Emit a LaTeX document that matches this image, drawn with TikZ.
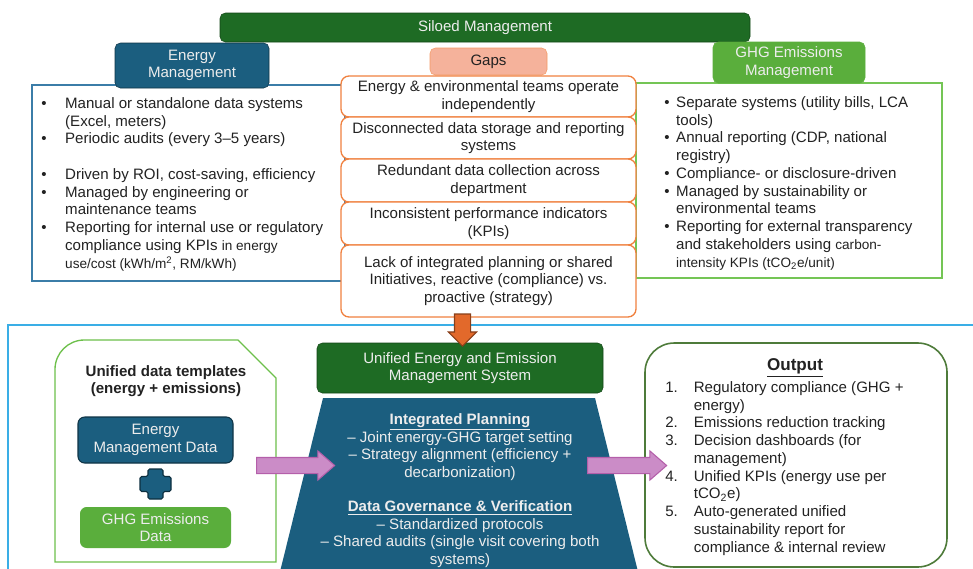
\documentclass[tikz,border=0pt]{standalone}
\usepackage{fontspec}
\setmainfont{Liberation Sans}
\usetikzlibrary{positioning,shapes.arrows}

\definecolor{silogreen}{HTML}{1E6B24}
\definecolor{engblue}{HTML}{1B5E7F}
\definecolor{ghggreen}{HTML}{5AAE3C}
\definecolor{gaporange}{HTML}{F0813F}
\definecolor{gapfill}{HTML}{F5B29B}
\definecolor{skyline}{HTML}{3AAEE6}
\definecolor{tmplgreen}{HTML}{6DC04B}
\definecolor{outgreen}{HTML}{4E7B3A}
\definecolor{pinkfill}{HTML}{CB8CC7}
\definecolor{pinkline}{HTML}{B45FAA}
\definecolor{arrorange}{HTML}{E2692B}
\definecolor{engline}{HTML}{3B7DA8}
\definecolor{ghgline}{HTML}{74C555}
\definecolor{lighttext}{HTML}{EDEDED}
\definecolor{bodytext}{HTML}{222222}

\newcommand{\kpifont}{\fontsize{10.2}{13.3}\selectfont}

\begin{document}
\begin{tikzpicture}[
    x=0.75pt, y=-0.75pt,
    font=\fontsize{11.3}{13.3}\selectfont,
    wh/.style 2 args={minimum width=#1*0.75pt, minimum height=#2*0.75pt},
    panel/.style={draw, line width=0.9pt, fill=white, inner sep=0pt},
    tab/.style={rounded corners=4pt, inner sep=0pt, align=center, text=lighttext},
    gapbox/.style={draw=gaporange, line width=1pt, fill=white, rounded corners=6pt,
                   inner sep=0pt, align=center, text=bodytext, wh={295}{#1}},
    listtxt/.style={anchor=base west, inner sep=0pt, text=bodytext},
    databox/.style={rounded corners=5pt, inner sep=0pt, align=center, text=lighttext},
    bigarr/.style={single arrow, inner sep=7.5*0.75pt, minimum width=0pt,
                   single arrow head extend=6.5*0.75pt, line width=0.8pt},
  ]
    \useasboundingbox (0,0) rectangle (973,568);
    \clip (0,0) rectangle (973,568);

    % siloed side: two panels with their tabs
    \node[panel, draw=engline, wh={313}{196}] (engpanel) at (188.5,183) {};
    \node[panel, draw=ghgline, wh={306}{195}] (ghgpanel) at (789,180.5) {};

    \node[tab, fill=silogreen, draw=silogreen!65!black, wh={530}{29}] (silo) at (485,27.5)
      {Siloed Management};
    \node[tab, fill=engblue, draw=engblue!55!black, wh={154}{45}] (engtab) at (192,65.5)
      {Energy\\Management};
    \node[tab, fill=ghggreen, draw=ghggreen, wh={152}{41}] (ghgtab) at (789,62.5)
      {GHG Emissions\\Management};

    \node[listtxt] (englist) at (41,108.5) {%
      \begin{tabular}[t]{@{}l@{\hspace{14pt}}l@{}}
        \textbullet & Manual or standalone data systems\\
                    & (Excel, meters)\\
        \textbullet & Periodic audits (every 3–5 years)\\
                    & \\
        \textbullet & Driven by ROI, cost-saving, efficiency\\
        \textbullet & Managed by engineering or\\
                    & maintenance teams\\
        \textbullet & Reporting for internal use or regulatory\\
                    & compliance using KPIs {\kpifont in energy}\\
                    & {\kpifont use/cost (kWh/m\textsuperscript{2}, RM/kWh)}
      \end{tabular}};
    \node[listtxt] (ghglist) at (664,107.5) {%
      \begin{tabular}[t]{@{}l@{\hspace{5pt}}l@{}}
        \textbullet & Separate systems (utility bills, LCA\\
                    & tools)\\
        \textbullet & Annual reporting (CDP, national\\
                    & registry)\\
        \textbullet & Compliance- or disclosure-driven\\
        \textbullet & Managed by sustainability or\\
                    & environmental teams\\
        \textbullet & Reporting for external transparency\\
                    & and stakeholders using {\kpifont carbon-}\\
                    & {\kpifont intensity KPIs (tCO\textsubscript{2}e/unit)}
      \end{tabular}};

    % gaps column
    \node[tab, fill=gapfill, draw=gaporange!80, text=bodytext, wh={117}{27}] (gaptab) at (488.5,61.5) {Gaps};
    \node[gapbox=41] (gap1) at (488.5,96.5) {Energy \& environmental teams operate\\independently};
    \node[gapbox=42] (gap2) at (488.5,138) {Disconnected data storage and reporting\\systems};
    \node[gapbox=43] (gap3) at (488.5,180.5) {Redundant data collection across\\department};
    \node[gapbox=43] (gap4) at (488.5,223.5) {Inconsistent performance indicators\\(KPIs)};
    \node[gapbox=72] (gap5) at (488.5,281) {Lack of integrated planning or shared\\Initiatives, reactive (compliance) vs.\\proactive (strategy)};

    % unified side
    \draw[skyline, line width=1pt] (8,325) rectangle (990,590);

    \draw[tmplgreen, line width=1pt, fill=white]
      (55,562) [rounded corners=22pt] -- (55,340) [sharp corners] -- (238,340)
      -- (276,378) -- (276,562) -- cycle;
    \node[align=center, inner sep=0pt, text=bodytext, font=\fontsize{11.3}{13.3}\selectfont\bfseries]
      (tmpltitle) at (166,381) {Unified data templates\\(energy + emissions)};
    \node[databox, fill=engblue, draw=engblue!55!black, line width=0.8pt, wh={155}{46}] (engdata)
      at (155.5,440) {Energy\\Management Data};
    \node[databox, fill=ghggreen, wh={151}{41}] (ghgdata) at (155.5,527.5) {GHG Emissions\\Data};
    \coordinate (plus) at (155.5,484);
    \draw[fill=engblue, draw=engblue!50!black, line width=0.8pt, rounded corners=1.2pt]
      (plus) ++(-7.5,-15) -- ++(15,0) -- ++(0,7.5) -- ++(8,0) -- ++(0,15) -- ++(-8,0)
      -- ++(0,7.5) -- ++(-15,0) -- ++(0,-7.5) -- ++(-8,0) -- ++(0,-15) -- ++(8,0) -- cycle;

    \node[tab, fill=silogreen, draw=silogreen!65!black, wh={286}{50}] (system) at (460,368)
      {Unified Energy and Emission\\Management System};
    \coordinate (core nw) at (323,398);
    \coordinate (core ne) at (595,398);
    \fill[engblue] (core nw) -- (core ne) -- (645,600) -- (273,600) -- cycle;
    \node[anchor=base, inner sep=0pt, text=lighttext,
          font=\fontsize{11.3}{13.1}\selectfont] (coretxt) at (460,424) {%
      \begin{tabular}[t]{@{}c@{}}
        \textbf{\underline{Integrated Planning}}\\
        – Joint energy-GHG target setting\\
        – Strategy alignment (efficiency +\\
        decarbonization)\\
        \\
        \textbf{\underline{Data Governance \& Verification}}\\
        – Standardized protocols\\
        – Shared audits (single visit covering both\\
        systems)
      \end{tabular}};

    \node[draw=outgreen, line width=1.2pt, fill=white, rounded corners=22pt, wh={302}{224}]
      (output) at (796,455) {};
    \node[inner sep=0pt, text=bodytext, font=\fontsize{12.8}{15}\selectfont\bfseries]
      (outtitle) at (795,368) {\underline{Output}};
    \node[listtxt] (outlist) at (665,392.5) {%
      \begin{tabular}[t]{@{}l@{\hspace{12pt}}l@{}}
        1. & Regulatory compliance (GHG +\\
           & energy)\\
        2. & Emissions reduction tracking\\
        3. & Decision dashboards (for\\
           & management)\\
        4. & Unified KPIs (energy use per\\
           & tCO\textsubscript{2}e)\\
        5. & Auto-generated unified\\
           & sustainability report for\\
           & compliance \& internal review
      \end{tabular}};

    % block arrows between the stages
    \node[bigarr, fill=arrorange, draw=arrorange!60!black, single arrow head extend=6*0.75pt,
          shape border rotate=270, minimum height=32*0.75pt] (downarr) at (462.5,326) {};
    \node[bigarr, fill=pinkfill, draw=pinkline, minimum height=78*0.75pt,
          single arrow tip angle=82] (tosystem) at (291,465.5) {};
    \node[bigarr, fill=pinkfill, draw=pinkline, minimum height=79*0.75pt,
          single arrow tip angle=82] (tooutput) at (622.5,465.5) {};
  \end{tikzpicture}
\end{document}
